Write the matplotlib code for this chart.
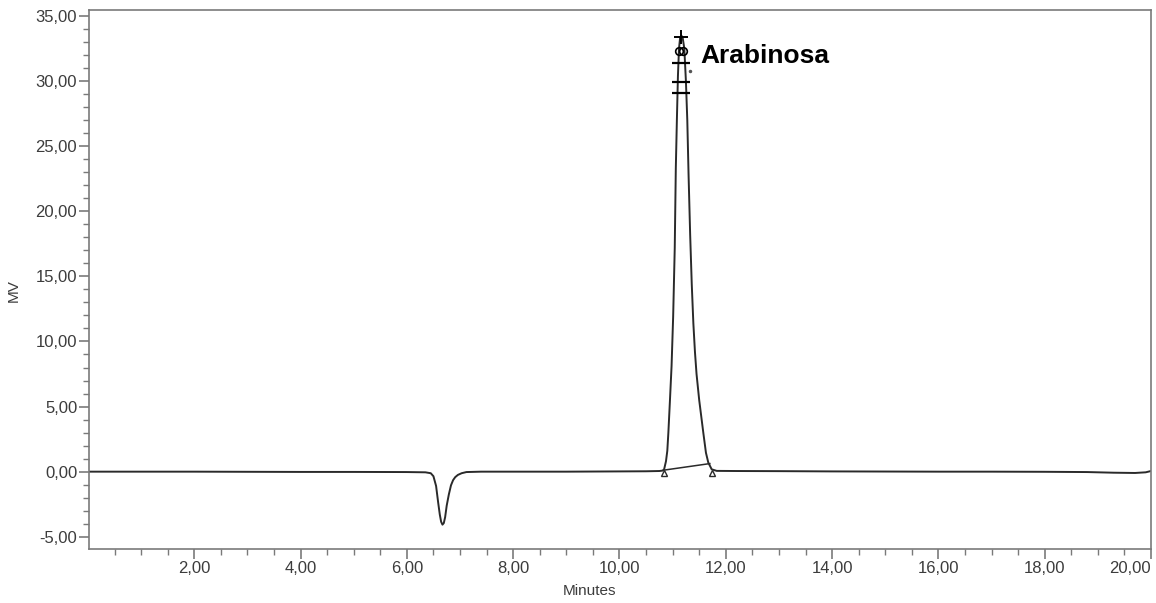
import numpy as np
import matplotlib.pyplot as plt
from matplotlib.ticker import MultipleLocator, FuncFormatter

# chromatogram trace (minutes, mV)
minutes = [0.02, 1.0, 2.0, 3.0, 4.0, 5.0, 6.0, 6.35, 6.45, 6.5, 6.55, 6.59, 6.62,
           6.645, 6.67, 6.695, 6.72, 6.75, 6.79, 6.83, 6.87, 6.91, 6.96, 7.03, 7.12,
           7.4, 8.0, 9.0, 10.0, 10.5, 10.75, 10.81, 10.84, 10.875, 10.9, 10.92,
           10.95, 10.98, 11.01, 11.04, 11.06, 11.08, 11.10, 11.12, 11.14, 11.165,
           11.19, 11.22, 11.25, 11.276, 11.30, 11.33, 11.36, 11.39, 11.42, 11.45,
           11.50, 11.577, 11.627, 11.671, 11.735, 11.83, 12.2, 13.0, 14.0, 15.0,
           16.0, 17.0, 18.0, 18.8, 19.3, 19.7, 19.9, 20.0]
signal = [0.0, 0.0, 0.0, -0.01, -0.02, -0.02, -0.03, -0.05, -0.12, -0.35, -1.1, -2.4,
          -3.3, -3.85, -4.07, -3.95, -3.5, -2.6, -1.75, -1.05, -0.65, -0.42, -0.25,
          -0.12, -0.03, 0.0, 0.0, 0.0, 0.02, 0.03, 0.05, 0.08, 0.18, 0.8, 1.6, 3.0,
          5.5, 8.1, 11.9, 17.2, 23.3, 27.0, 30.4, 32.5, 33.3, 33.5, 33.3, 32.5, 30.0,
          27.0, 22.8, 18.2, 14.4, 11.4, 9.2, 7.5, 5.5, 3.0, 1.45, 0.7, 0.18, 0.06,
          0.05, 0.04, 0.02, 0.01, 0.0, 0.0, -0.01, -0.03, -0.08, -0.1, -0.05, 0.05]

# integration baseline under the peak
base_x = [10.84, 11.70]
base_y = [0.12, 0.62]
# peak start / end marks
mark_x = [10.83, 11.75]
mark_y = [-0.1, -0.1]
# peak-top marks
apex_x, apex_y = 11.165, 33.4
ring_x = [11.128, 11.202]
ring_y = [32.3, 32.3]
tick_y = [31.4, 29.95, 29.05]
dot_x, dot_y = 11.33, 30.8

peak_name = "Arabinosa"
label_x, label_y = 11.52, 31.4

plt.rcParams['font.family'] = ['Liberation Sans', 'DejaVu Sans']

fig = plt.figure(figsize=(11.56, 6.03), dpi=100)
ax = fig.add_axes([89 / 1156, 1 - 549 / 603, 1062 / 1156, 539 / 603])

line_col = '#2a2a2a'
ax.plot(minutes, signal, color=line_col, lw=1.4)
ax.plot(base_x, base_y, color=line_col, lw=1.1)
ax.plot(mark_x, mark_y, ls='none', marker='^', ms=5, mfc='none', mec=line_col, mew=1.0)

ax.plot([apex_x], [apex_y], ls='none', marker='+', ms=10, mec='black', mew=1.4)
ax.plot(ring_x, ring_y, ls='none', marker='o', ms=5.5, mfc='none', mec='black', mew=1.2)
ax.plot([apex_x] * len(tick_y), tick_y, ls='none', marker='_', ms=13, mec='black', mew=1.6)
ax.plot([dot_x], [dot_y], ls='none', marker='.', ms=3, color='#555555')

ax.text(label_x, label_y, peak_name, fontsize=19, fontweight='bold',
        ha='left', va='baseline', color='black')

ax.set_xlim(0.02, 20.0)
ax.set_ylim(-5.94, 35.46)
ax.xaxis.set_major_locator(MultipleLocator(2))
ax.xaxis.set_minor_locator(MultipleLocator(0.5))
ax.yaxis.set_major_locator(MultipleLocator(5))
ax.yaxis.set_minor_locator(MultipleLocator(1))
fmt = FuncFormatter(lambda v, p: f"{v:.2f}".replace('.', ','))
ax.xaxis.set_major_formatter(fmt)
ax.yaxis.set_major_formatter(fmt)

txt_col = '#3c3c3c'
spine_col = '#7a7a7a'
for s in ax.spines.values():
    s.set_color(spine_col)
    s.set_linewidth(1.2)
ax.tick_params(which='major', length=7, width=1.2, color=spine_col,
               labelsize=12, labelcolor=txt_col, pad=1.5)
ax.tick_params(which='minor', length=4, width=1.0, color=spine_col)

ax.set_xlabel("Minutes", fontsize=11, color=txt_col)
ax.set_ylabel("MV", fontsize=11, color=txt_col)
ax.xaxis.set_label_coords((590 - 89) / 1062, -0.065)
ax.yaxis.set_label_coords(-0.064, 0.48)

# last x label sits flush against the right edge
fig.canvas.draw()
xlabels = ax.get_xticklabels()
for t in xlabels:
    if t.get_text() == "20,00":
        t.set_horizontalalignment('right')

fig.savefig('out.png', dpi=100)
